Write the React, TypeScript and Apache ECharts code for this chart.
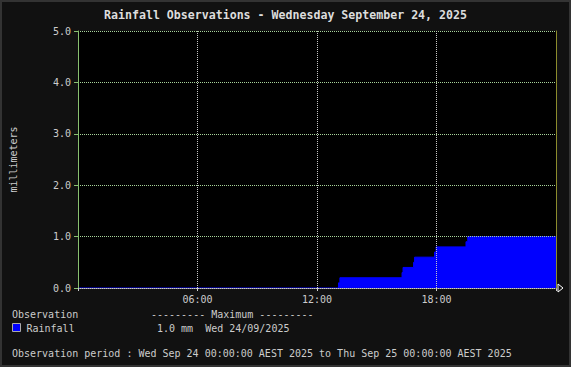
import React, { useEffect, useRef } from "react";
import * as echarts from "echarts";

const TITLE = "Rainfall Observations - Wednesday September 24, 2025";
const Y_NAME = "millimeters";
// time in hours since 00:00, cumulative rainfall in mm
const rainHours = [0, 13.08, 13.15, 16.27, 16.32, 16.85, 16.9, 17.9, 17.98, 19.48, 19.57, 24];
const rainValues = [0, 0.1, 0.2, 0.3, 0.4, 0.5, 0.6, 0.7, 0.8, 0.9, 1.0, 1.0];
const xTicks = [6, 12, 18];
const legendHeader = "Observation";
const maxHeader = "--------- Maximum ---------";
const seriesName = "Rainfall";
const maxText = "1.0 mm  Wed 24/09/2025";
const periodText = "Observation period : Wed Sep 24 00:00:00 AEST 2025 to Thu Sep 25 00:00:00 AEST 2025";

const MONO = "'DejaVu Sans Mono', 'Liberation Mono', monospace";

export default function App() {
  const ref = useRef<HTMLDivElement>(null);
  useEffect(() => {
    document.body.style.margin = "0";
    const chart = echarts.init(ref.current!, undefined, { renderer: "svg" });
    const data = rainHours.map((h, i) => [h, rainValues[i]]);
    chart.setOption({
      animation: false,
      backgroundColor: "#111111",
      title: {
        text: TITLE,
        left: "center",
        top: 4,
        textStyle: { color: "#dddddd", fontSize: 11.6, fontWeight: "bold", fontFamily: MONO },
      },
      grid: {
        left: 75,
        top: 31,
        width: 481,
        height: 257,
        show: true,
        backgroundColor: "#000000",
        borderWidth: 0,
      },
      xAxis: {
        type: "value",
        min: 0,
        max: 24,
        interval: 6,
        z: 10,
        axisLine: { show: true, lineStyle: { color: "#cccccc", type: [1, 1], width: 1 } },
        axisTick: { show: true, length: 3, lineStyle: { color: "#cccccc" } },
        axisLabel: {
          color: "#cccccc",
          fontSize: 10,
          fontFamily: MONO,
          margin: 6,
          formatter: (v: number) =>
            xTicks.includes(v) ? String(v).padStart(2, "0") + ":00" : "",
        },
        splitLine: {
          show: true,
          showMinLine: false,
          showMaxLine: false,
          lineStyle: { color: "#c8c8c8", type: [1, 1], width: 1 },
        },
      },
      yAxis: [
        {
          type: "value",
          min: 0,
          max: 5,
          interval: 1,
          z: 10,
          name: Y_NAME,
          nameLocation: "middle",
          nameRotate: 90,
          nameGap: 60,
          nameTextStyle: { color: "#cccccc", fontSize: 10, fontFamily: MONO },
          axisLine: { show: true, lineStyle: { color: "#88c070", width: 1 } },
          axisTick: { show: true, length: 4, lineStyle: { color: "#88c070" } },
          axisLabel: {
            color: "#cccccc",
            fontSize: 10,
            fontFamily: MONO,
            margin: 7,
            formatter: (v: number) => v.toFixed(1),
          },
          splitLine: {
            show: true,
            showMinLine: false,
            lineStyle: { color: "#a8d49c", type: [1, 1], width: 1 },
          },
        },
        {
          type: "value",
          position: "right",
          min: 0,
          max: 5,
          interval: 1,
          z: 11,
          axisLine: { show: true, lineStyle: { color: "#8c8c2c", width: 1 } },
          axisTick: { show: false },
          axisLabel: { show: false },
          splitLine: { show: false },
        },
      ],
      series: [
        {
          type: "line",
          name: seriesName,
          data,
          step: "end",
          symbol: "none",
          z: 2,
          lineStyle: { color: "#0000ff", width: 1 },
          areaStyle: { color: "#0000ff", opacity: 1 },
        },
      ],
      graphic: [
        {
          type: "rect",
          shape: { x: 1, y: 1, width: 569, height: 365 },
          style: { fill: "none", stroke: "#333333", lineWidth: 2 },
          silent: true,
        },
        {
          type: "text",
          x: 12,
          y: 314,
          style: { text: legendHeader, fill: "#cccccc", font: `10px ${MONO}`, verticalAlign: "middle" },
        },
        {
          type: "text",
          x: 151,
          y: 314,
          style: { text: maxHeader, fill: "#cccccc", font: `10px ${MONO}`, verticalAlign: "middle" },
        },
        {
          type: "rect",
          shape: { x: 12.5, y: 323.5, width: 8, height: 8 },
          style: { fill: "#0000ff", stroke: "#aaaaaa", lineWidth: 1 },
        },
        {
          type: "text",
          x: 26.5,
          y: 328,
          style: { text: seriesName, fill: "#cccccc", font: `10px ${MONO}`, verticalAlign: "middle" },
        },
        {
          type: "text",
          x: 157,
          y: 328,
          style: { text: maxText, fill: "#cccccc", font: `10px ${MONO}`, verticalAlign: "middle" },
        },
        {
          type: "text",
          x: 12,
          y: 353,
          style: { text: periodText, fill: "#cccccc", font: `10px ${MONO}`, verticalAlign: "middle" },
        },
      ],
    });
    const p = chart.convertToPixel({ xAxisIndex: 0, yAxisIndex: 0 }, [24, 0]) as number[];
    if (p) {
      chart.setOption({
        graphic: [
          {
            id: "arrow",
            type: "polygon",
            shape: {
              points: [
                [p[0] + 2, p[1] - 4],
                [p[0] + 7, p[1]],
                [p[0] + 2, p[1] + 4],
              ],
            },
            style: { fill: "#111111", stroke: "#ffffff", lineWidth: 1 },
          },
        ],
      });
    }
    return () => chart.dispose();
  }, []);
  return <div ref={ref} style={{ width: 571, height: 367 }} />;
}
